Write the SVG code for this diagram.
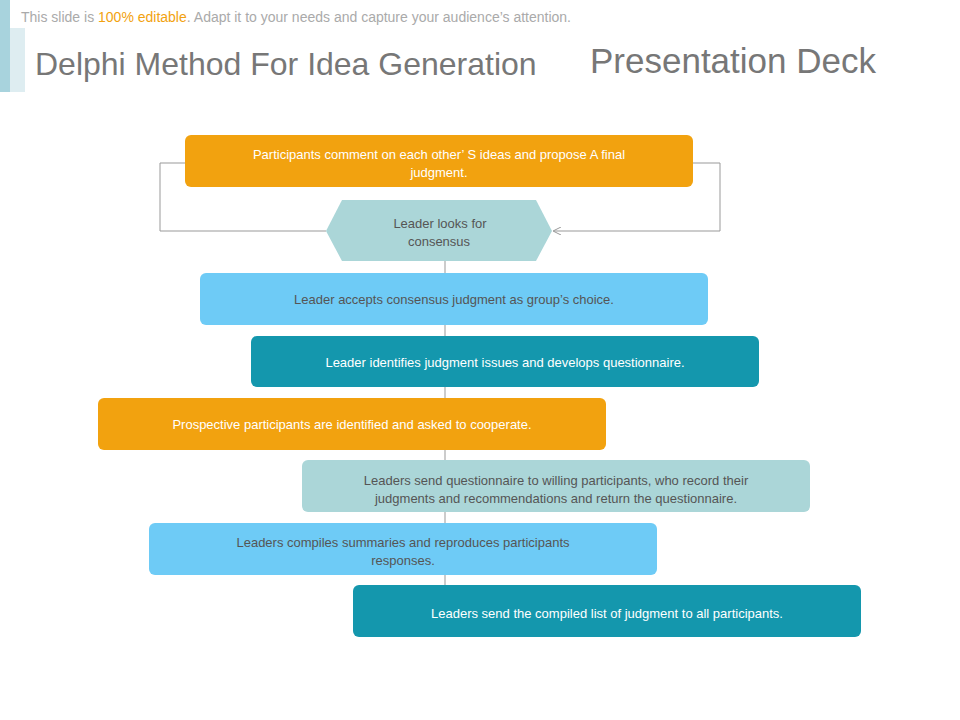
<svg xmlns="http://www.w3.org/2000/svg" width="960" height="720" viewBox="0 0 960 720">
<defs>
<style>
text{font-family:"Liberation Sans",Arial,sans-serif;text-anchor:middle}
.w{fill:#fff;font-size:13px}
.g{fill:#555;font-size:13px}
.or{fill:#f2a20f}
.lb{fill:#6ecbf6}
.tl{fill:#1497ad}
.pt{fill:#abd6d8}
.ln{stroke:#999;stroke-width:1;fill:none}
</style>
<marker id="ar" markerWidth="8" markerHeight="8" refX="7" refY="4" orient="auto" markerUnits="userSpaceOnUse"><path d="M0,0 L8,4 L0,8" fill="none" stroke="#999"/></marker>
</defs>
<rect width="960" height="720" fill="#fff"/>
<rect x="0" y="0" width="10" height="92" fill="#a8d3dd"/>
<rect x="10" y="28" width="15" height="64" fill="#deedf1"/>
<text x="21" y="22" style="text-anchor:start;font-size:14px;fill:#aaa">This slide is <tspan fill="#f2a20f">100% editable</tspan>. Adapt it to your needs and capture your audience’s attention.</text>
<text x="35" y="75" style="text-anchor:start;font-size:32px;fill:#777">Delphi Method For Idea Generation</text>
<text x="590" y="73" style="text-anchor:start;font-size:35px;fill:#777">Presentation Deck</text>
<g id="connectors">
<path class="ln" d="M445,261 V585"/>
<path class="ln" d="M326,231 H160 V163 H185"/>
<path class="ln" d="M693,163 H720 V231 H554" marker-end="url(#ar)"/>
</g>
<g id="n1"><rect class="or" x="185" y="135" width="508" height="52" rx="6"/><text class="w" x="439" y="159">Participants comment on each other’ S ideas and propose A final</text><text class="w" x="439" y="177">judgment.</text></g>
<g id="n2"><polygon class="pt" points="326,231 342,200 536,200 552,231 536,261 342,261"/><text class="g" x="440" y="228">Leader looks for</text><text class="g" x="439" y="246">consensus</text></g>
<g id="n3"><rect class="lb" x="200" y="273" width="508" height="52" rx="6"/><text class="g" x="454" y="304">Leader accepts consensus judgment as group’s choice.</text></g>
<g id="n4"><rect class="tl" x="251" y="336" width="508" height="51" rx="6"/><text class="w" x="505" y="367">Leader identifies judgment issues and develops questionnaire.</text></g>
<g id="n5"><rect class="or" x="98" y="398" width="508" height="52" rx="6"/><text class="w" x="352" y="429">Prospective participants are identified and asked to cooperate.</text></g>
<g id="n6"><rect class="pt" x="302" y="460" width="508" height="52" rx="6"/><text class="g" x="556" y="485">Leaders send questionnaire to willing participants, who record their</text><text class="g" x="556" y="503">judgments and recommendations and return the questionnaire.</text></g>
<g id="n7"><rect class="lb" x="149" y="523" width="508" height="52" rx="6"/><text class="g" x="403" y="547">Leaders compiles summaries and reproduces participants</text><text class="g" x="403" y="565">responses.</text></g>
<g id="n8"><rect class="tl" x="353" y="585" width="508" height="52" rx="6"/><text class="w" x="607" y="618">Leaders send the compiled list of judgment to all participants.</text></g>
</svg>
